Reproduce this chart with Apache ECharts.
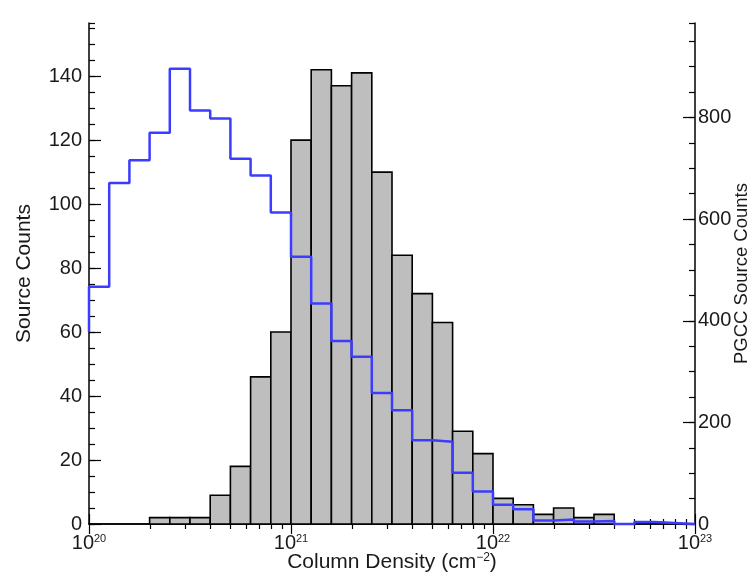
<!DOCTYPE html>
<html>
<head>
<meta charset="utf-8">
<script src="https://cdn.jsdelivr.net/npm/echarts@6/dist/echarts.min.js"></script>
<style>html,body{margin:0;padding:0;background:#fff;}#chart{width:753px;height:580px;}</style>
</head>
<body>
<div id="chart"></div>
<script>
// Bin edges in log10(column density / cm^-2)
const binEdges = [20.0,20.1,20.2,20.3,20.4,20.5,20.6,20.7,20.8,20.9,21.0,21.1,21.2,21.3,21.4,21.5,21.6,21.7,21.8,21.9,22.0,22.1,22.2,22.3,22.4,22.5,22.6,22.7,22.8,22.9,23.0];
// Source counts (gray histogram, left axis)
const sourceCounts = [0,0,0,2,2,2,9,18,46,60,120,142,137,141,110,84,72,63,29,22,8,6,3,5,2,3,0,0,0,0];
// PGCC source counts (blue step line, right axis)
const pgccCounts = [467,671,716,770,896,814,798,719,686,613,526,434,360,329,258,224,165,162,101,64,38,29,7,9,5,6,0,4,2,0];
const pgccBelowRange = 378;
// Tick labels (exponents of ten)
const xTickExponents = [20,21,22,23];
const leftMax = 156.6, rightMax = 986;

const FONT = 'Liberation Sans';
const TXT = '#1a1a1a';

const minorX = [];
for (let d = 20; d < 23; d++) for (let k = 2; k <= 9; k++) minorX.push(d + Math.log10(k));

const histData = sourceCounts.map((c, i) => [binEdges[i], binEdges[i + 1], c]).filter(d => d[2] > 0);
const lineData = [[binEdges[0], pgccBelowRange]];
pgccCounts.forEach((c, i) => lineData.push([binEdges[i], c]));
lineData.push([binEdges[binEdges.length - 1], pgccCounts[pgccCounts.length - 1]]);

function xAxisDef(pos, major) {
  return {
    type: 'value', min: 20, max: 23, position: pos, offset: 0,
    axisLine: { show: major, lineStyle: { color: '#000', width: 1.5 } },
    axisTick: { show: true, inside: true, length: major ? 10 : 5,
      customValues: major ? xTickExponents : minorX,
      lineStyle: { color: '#000', width: 1.2 } },
    axisLabel: (major && pos === 'bottom') ? {
      show: true, customValues: xTickExponents, margin: 9,
      formatter: v => '{b|10}{s|' + Math.round(v) + '}',
      rich: {
        b: { fontFamily: FONT, fontSize: 20, color: TXT, lineHeight: 21 },
        s: { fontFamily: FONT, fontSize: 11, color: TXT, lineHeight: 12, verticalAlign: 'top' }
      }
    } : { show: false },
    splitLine: { show: false },
    name: (major && pos === 'bottom') ? 'Column Density (cm{s|−2})' : '',
    nameLocation: 'middle', nameGap: 28, nameMoveOverlap: false,
    nameTextStyle: {
      fontFamily: FONT, fontSize: 21, color: TXT,
      rich: { s: { fontFamily: FONT, fontSize: 12, color: TXT, verticalAlign: 'top', lineHeight: 13 } }
    }
  };
}

function yAxisDef(pos, max, interval, major, name) {
  return {
    type: 'value', min: 0, max: max, interval: interval, position: pos, offset: 0,
    axisLine: { show: major, lineStyle: { color: '#000', width: 1.5 } },
    axisTick: { show: true, inside: true, length: major ? 12 : 6, lineStyle: { color: '#000', width: 1.2 } },
    axisLabel: major ? { show: true, showMaxLabel: false, margin: pos === 'left' ? 7 : 3,
      fontFamily: FONT, fontSize: 20, color: TXT } : { show: false },
    splitLine: { show: false },
    name: major ? name : '',
    nameLocation: 'middle', nameRotate: 90, nameMoveOverlap: false,
    nameGap: pos === 'left' ? 54 : 37,
    nameTextStyle: { fontFamily: FONT, fontSize: pos === 'left' ? 21 : 18.5, color: TXT }
  };
}

const chart = echarts.init(document.getElementById('chart'), null, { renderer: 'canvas' });
chart.setOption({
  animation: false,
  backgroundColor: '#fff',
  grid: { left: 89, right: 58, top: 23, bottom: 56, containLabel: false, outerBoundsMode: 'none' },
  xAxis: [xAxisDef('bottom', true), xAxisDef('bottom', false), xAxisDef('top', true), xAxisDef('top', false)],
  yAxis: [
    yAxisDef('left', leftMax, 20, true, 'Source Counts'),
    yAxisDef('right', rightMax, 200, true, 'PGCC Source Counts'),
    yAxisDef('left', leftMax, 5, false, ''),
    yAxisDef('right', rightMax, 50, false, '')
  ],
  series: [
    {
      type: 'custom', xAxisIndex: 0, yAxisIndex: 0, z: 2,
      data: histData,
      encode: { x: [0, 1], y: 2 },
      renderItem: function (params, api) {
        const p0 = api.coord([api.value(0), api.value(2)]);
        const p1 = api.coord([api.value(1), 0]);
        return {
          type: 'rect',
          shape: { x: p0[0], y: p0[1], width: p1[0] - p0[0], height: p1[1] - p0[1] },
          style: { fill: '#bebebe', stroke: '#000', lineWidth: 1.6 }
        };
      }
    },
    {
      type: 'line', xAxisIndex: 0, yAxisIndex: 1, z: 5,
      step: 'end', data: lineData, showSymbol: false, symbol: 'none', clip: false,
      lineStyle: { color: '#3c3cff', width: 2.5 }
    }
  ]
});
</script>
</body>
</html>
